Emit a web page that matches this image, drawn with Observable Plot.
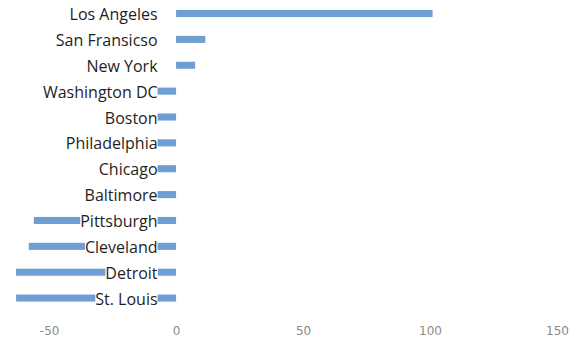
<!DOCTYPE html>
<html>
<head>
<meta charset="utf-8">
<script src="https://cdn.jsdelivr.net/npm/d3@7"></script>
<script src="https://cdn.jsdelivr.net/npm/@observablehq/plot@0.6"></script>
<style>
  html, body { margin: 0; padding: 0; background: #fff; }
  #chart svg { display: block; }
</style>
</head>
<body>
<div id="chart"></div>
<script>
// Change by city, largest gain at the top
const cities = [
  "Los Angeles", "San Fransicso", "New York", "Washington DC", "Boston",
  "Philadelphia", "Chicago", "Baltimore", "Pittsburgh", "Cleveland",
  "Detroit", "St. Louis"
];
const values = [101, 11.5, 7.5, -8, -9, -8, -8, -8, -56, -58, -63, -63];
const xTicks = [-50, 0, 50, 100, 150];

const data = cities.map((city, i) => ({city, value: values[i]}));

const chart = Plot.plot({
  width: 586,
  height: 358,
  marginLeft: 11,
  marginRight: 29,
  marginTop: 0.6,
  marginBottom: 47,
  style: {fontFamily: "'Open Sans', sans-serif", background: "#fff"},
  x: {domain: [-65, 150]},
  y: {domain: cities, padding: 0, round: false, axis: null},
  marks: [
    Plot.barX(data, {
      x1: 0, x2: "value", y: "city",
      fill: "#6f9fd2",
      insetTop: 9.4, insetBottom: 9.4
    }),
    Plot.text(data, {
      x: 0, y: "city", text: "city",
      textAnchor: "end", dx: -19, dy: 1,
      fontSize: 16, fill: "#1e1e1e",
      className: "city-label"
    }),
    Plot.axisX({
      ticks: xTicks,
      tickFormat: d => `${d}`,
      tickSize: 0,
      tickPadding: 15,
      fontSize: 12,
      fontFamily: "'DejaVu Sans', sans-serif",
      fill: "#8a8a8a",
      label: null
    })
  ]
});

document.getElementById("chart").append(chart);

// Category labels sit on a white box, covering the bars behind them
chart.querySelectorAll("g.city-label text").forEach(t => {
  const b = t.getBBox();
  const r = document.createElementNS("http://www.w3.org/2000/svg", "rect");
  r.setAttribute("x", b.x);
  r.setAttribute("y", b.y + 3);
  r.setAttribute("width", b.width);
  r.setAttribute("height", b.height - 6);
  r.setAttribute("fill", "white");
  const tr = t.getAttribute("transform");
  if (tr) r.setAttribute("transform", tr);
  t.parentNode.insertBefore(r, t);
});
</script>
</body>
</html>
